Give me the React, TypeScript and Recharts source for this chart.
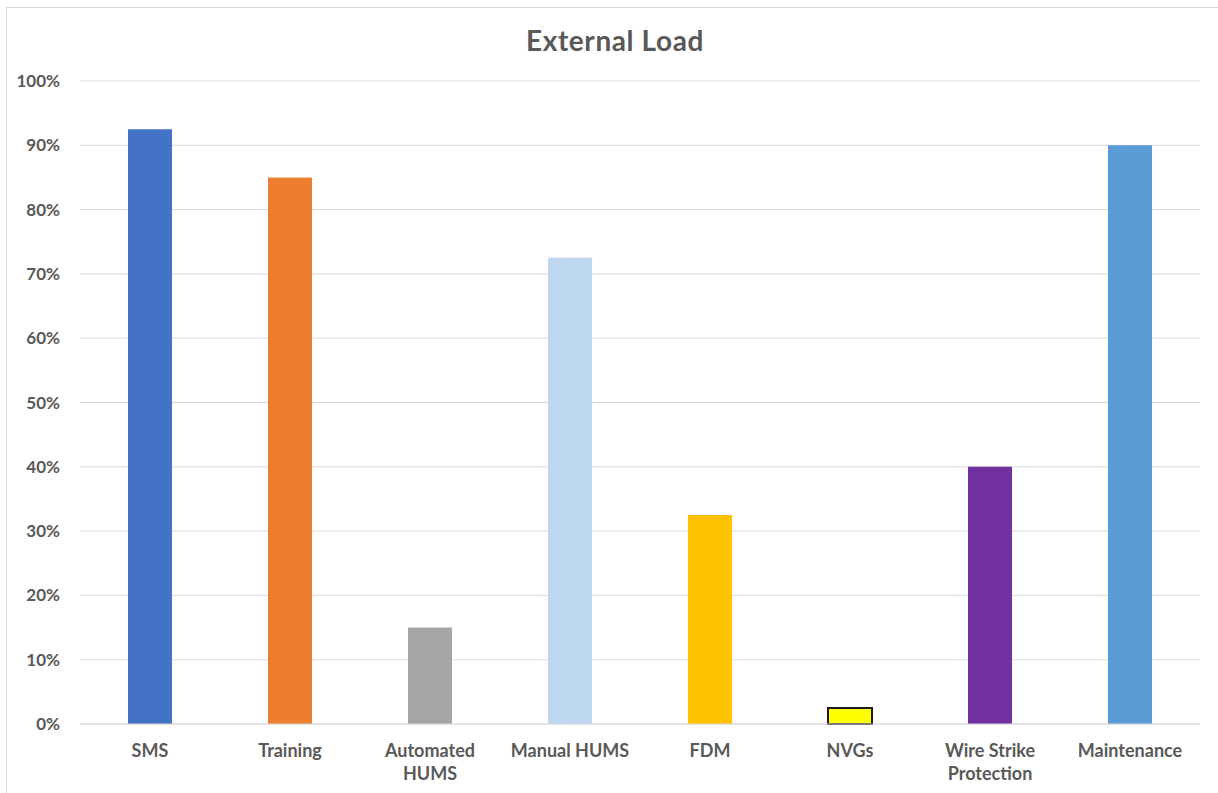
import React from "react";
import { BarChart, Bar, XAxis, YAxis, CartesianGrid, Cell } from "recharts";

const categories = [
  "SMS",
  "Training",
  "Automated\nHUMS",
  "Manual HUMS",
  "FDM",
  "NVGs",
  "Wire Strike\nProtection",
  "Maintenance",
];
const values = [0.925, 0.85, 0.15, 0.725, 0.325, 0.025, 0.4, 0.9];
const barColors = ["#4472C4", "#ED7D31", "#A5A5A5", "#BDD7EE", "#FFC000", "#FFFF00", "#7030A0", "#5B9BD5"];
const yTicks = [0, 0.1, 0.2, 0.3, 0.4, 0.5, 0.6, 0.7, 0.8, 0.9, 1];

const data = categories.map((name, i) => ({ name, value: values[i] }));

const FONT = "Lato, 'Open Sans', sans-serif";
const TEXT = "#595959";

function CategoryTick(props: any) {
  const { x, y, payload } = props;
  const lines = String(payload.value).split("\n");
  return (
    <text x={x} y={y} textAnchor="middle" fill={TEXT} fontFamily={FONT} fontSize={18} fontWeight="bold">
      {lines.map((l, i) => (
        <tspan key={i} x={x} dy={i === 0 ? 25 : 23}>
          {l}
        </tspan>
      ))}
    </text>
  );
}

export default function App() {
  return (
    <div style={{ position: "absolute", left: 0, top: 0, width: 1218, height: 793, overflow: "hidden", background: "#fff" }}>
      <div
        style={{
          position: "absolute",
          left: 6,
          top: 7,
          width: 1240,
          height: 810,
          border: "1px solid #d9d9d9",
          boxSizing: "border-box",
        }}
      />
      <div
        style={{
          position: "absolute",
          left: 0,
          width: 1230,
          top: 23,
          textAlign: "center",
          fontFamily: FONT,
          fontSize: 28,
          letterSpacing: 0.6,
          fontWeight: "bold",
          color: TEXT,
        }}
      >
        External Load
      </div>
      <div style={{ position: "absolute", left: 0, top: 0 }}>
        <BarChart width={1218} height={793} data={data} margin={{ top: 81, right: 18, left: 0, bottom: 9 }}>
          <CartesianGrid vertical={false} stroke="#d9d9d9" />
          <XAxis
            dataKey="name"
            interval={0}
            height={60}
            axisLine={{ stroke: "#d9d9d9" }}
            tickLine={false}
            tick={<CategoryTick />}
          />
          <YAxis
            width={80}
            domain={[0, 1]}
            ticks={yTicks}
            axisLine={false}
            tickLine={false}
            tickMargin={14}
            tickFormatter={(v: number) => `${Math.round(v * 100)}%`}
            tick={{ fill: TEXT, fontFamily: FONT, fontSize: 17, fontWeight: "bold" }}
          />
          <Bar dataKey="value" barSize={44} isAnimationActive={false}>
            {data.map((d, i) => (
              <Cell
                key={d.name}
                fill={barColors[i]}
                stroke={d.name === "NVGs" ? "#1a1a1a" : "none"}
                strokeWidth={d.name === "NVGs" ? 2 : 0}
              />
            ))}
          </Bar>
        </BarChart>
      </div>
    </div>
  );
}
